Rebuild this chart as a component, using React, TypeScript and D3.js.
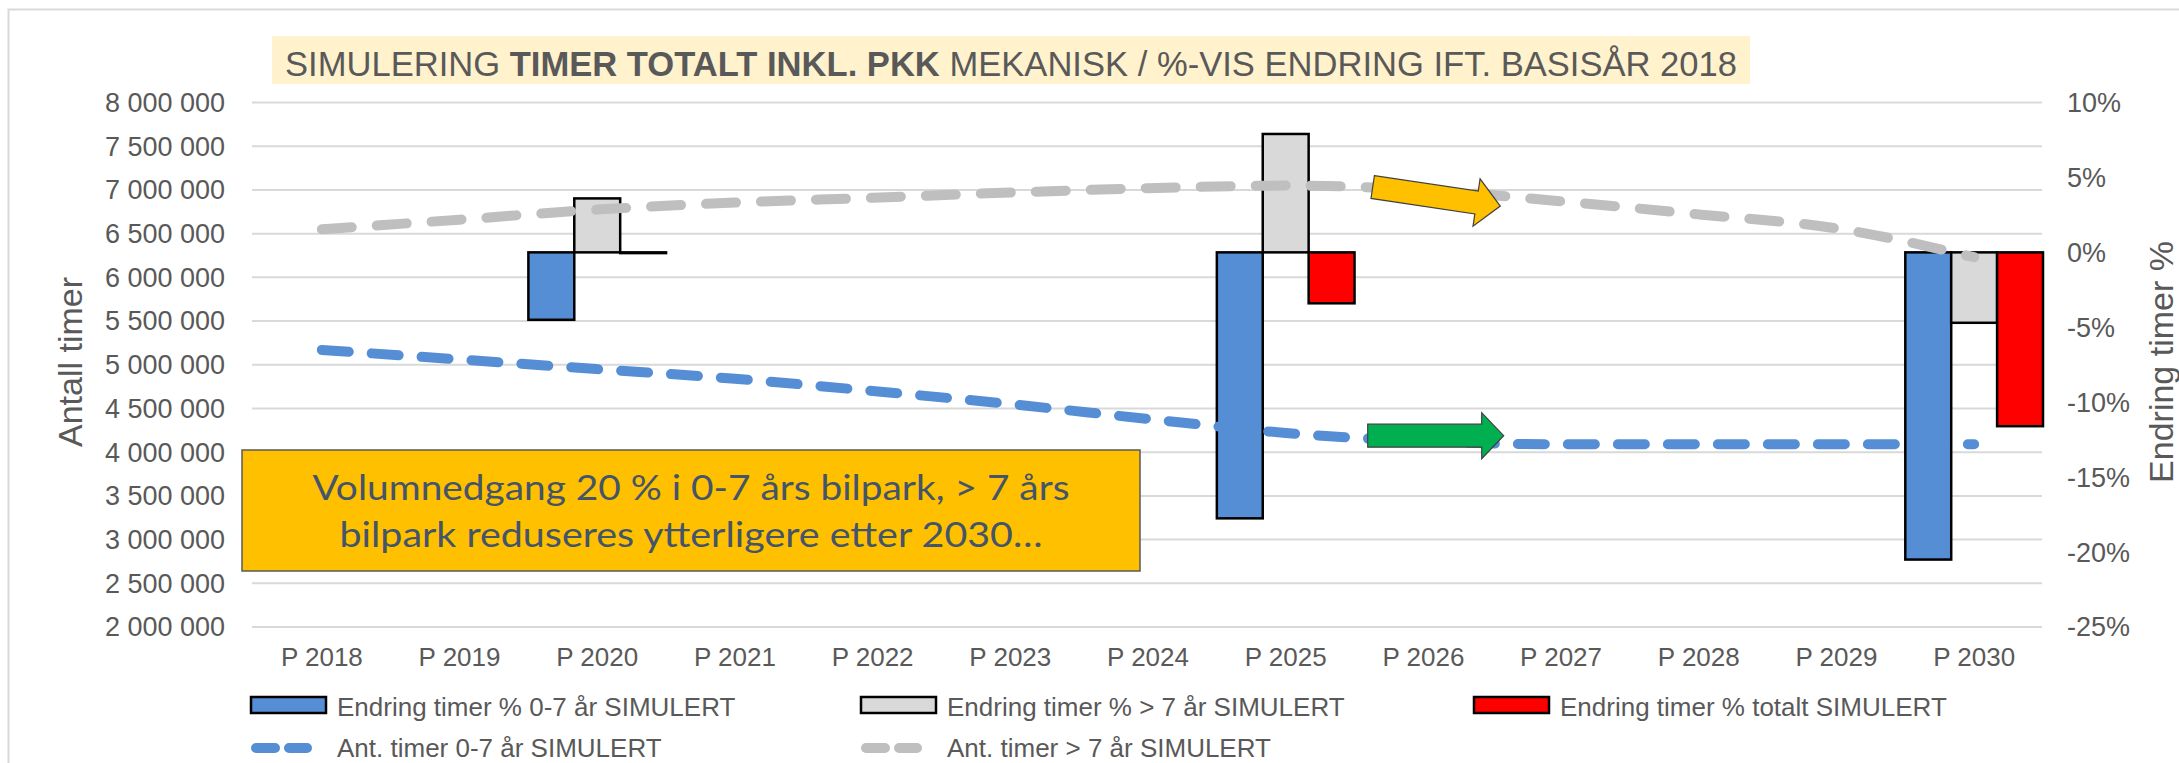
import React, { useEffect, useRef } from 'react';
import * as d3 from 'd3';

const categories = [
  'P 2018', 'P 2019', 'P 2020', 'P 2021', 'P 2022', 'P 2023', 'P 2024',
  'P 2025', 'P 2026', 'P 2027', 'P 2028', 'P 2029', 'P 2030',
];

// % change vs base year 2018 (right axis), only simulated years have values
const changeYoung = [null, null, -4.5, null, null, null, null, -17.75, null, null, null, null, -20.5];
const changeOld = [null, null, 3.6, null, null, null, null, 7.9, null, null, null, null, -4.7];
const changeTotal = [null, null, -0.05, null, null, null, null, -3.4, null, null, null, null, -11.6];

// hours (left axis)
const hoursYoung = [5170000, 5060000, 4950000, 4840000, 4700000, 4550000, 4380000, 4220000, 4125000, 4090000, 4090000, 4090000, 4090000];
const hoursOld = [6550000, 6660000, 6775000, 6855000, 6910000, 6970000, 7020000, 7050000, 7000000, 6870000, 6720000, 6560000, 6230000];

const leftTicks = [2000000, 2500000, 3000000, 3500000, 4000000, 4500000, 5000000, 5500000, 6000000, 6500000, 7000000, 7500000, 8000000];
const rightTicks = [-25, -20, -15, -10, -5, 0, 5, 10];

const barSeries = [
  { name: 'Endring timer % 0-7 år SIMULERT', values: changeYoung, color: '#558ED5' },
  { name: 'Endring timer % > 7 år SIMULERT', values: changeOld, color: '#D9D9D9' },
  { name: 'Endring timer % totalt SIMULERT', values: changeTotal, color: '#FF0000' },
];
const lineSeries = [
  { name: 'Ant. timer 0-7 år SIMULERT', values: hoursYoung, color: '#558ED5', dash: '27 23' },
  { name: 'Ant. timer > 7 år SIMULERT', values: hoursOld, color: '#BFBFBF', dash: '30 25' },
];

const W = 2179;
const H = 763;
const FONT = '"Liberation Sans", Arial, sans-serif';
const TXT = '#595959';

const arrowPath = (len: number, shaft: number, head: number, headLen: number) =>
  `M0,${-shaft / 2}L${len - headLen},${-shaft / 2}L${len - headLen},${-head / 2}L${len},0` +
  `L${len - headLen},${head / 2}L${len - headLen},${shaft / 2}L0,${shaft / 2}Z`;

const App = () => {
  const ref = useRef<SVGSVGElement | null>(null);

  useEffect(() => {
    const svg = d3.select(ref.current);
    svg.selectAll('*').remove();

    const x = d3.scaleBand<string>().domain(categories).range([253, 2043]).padding(0);
    const yLeft = d3.scaleLinear().domain([2000000, 8000000]).range([627, 102.5]);
    const yRight = d3.scaleLinear().domain([-25, 10]).range([627, 102.5]);
    const bw = x.bandwidth() / 3;

    // outer chart border
    svg.append('rect').attr('x', 8.5).attr('y', 9.5).attr('width', W + 20).attr('height', H + 20)
      .attr('fill', 'none').attr('stroke', '#D9D9D9').attr('stroke-width', 2);

    // title
    svg.append('rect').attr('x', 272).attr('y', 36).attr('width', 1478).attr('height', 48).attr('fill', '#FFF2CC');
    const title = svg.append('text').attr('x', 1011).attr('y', 76).attr('text-anchor', 'middle')
      .attr('font-family', '"Liberation Sans Narrow", "Arial Narrow", "Liberation Sans", Arial, sans-serif')
      .attr('font-size', 35).attr('fill', TXT)
      .attr('textLength', 1452).attr('lengthAdjust', 'spacingAndGlyphs');
    title.append('tspan').text('SIMULERING ');
    title.append('tspan').attr('font-weight', 'bold').text('TIMER TOTALT INKL. PKK');
    title.append('tspan').text(' MEKANISK / %-VIS ENDRING IFT. BASISÅR 2018');

    // gridlines
    svg.append('g').selectAll('line').data(leftTicks).enter().append('line')
      .attr('x1', 252).attr('x2', 2042)
      .attr('y1', (d) => yLeft(d)).attr('y2', (d) => yLeft(d))
      .attr('stroke', '#D9D9D9').attr('stroke-width', 2);

    // left axis labels
    svg.append('g').selectAll('text').data(leftTicks).enter().append('text')
      .attr('x', 225).attr('y', (d) => yLeft(d)).attr('dy', '0.35em')
      .attr('text-anchor', 'end').attr('font-family', FONT).attr('font-size', 27).attr('fill', TXT)
      .text((d) => d3.format(',')(d).replace(/,/g, '\u00a0'));

    // right axis labels
    svg.append('g').selectAll('text').data(rightTicks).enter().append('text')
      .attr('x', 2067).attr('y', (d) => yRight(d)).attr('dy', '0.35em')
      .attr('font-family', FONT).attr('font-size', 27).attr('fill', TXT)
      .text((d) => `${d}%`);

    // category labels
    svg.append('g').selectAll('text').data(categories).enter().append('text')
      .attr('x', (d) => (x(d) as number) + x.bandwidth() / 2).attr('y', 666)
      .attr('text-anchor', 'middle').attr('font-family', FONT).attr('font-size', 26).attr('fill', TXT)
      .text((d) => d);

    // axis titles
    svg.append('text').attr('transform', 'translate(70,362) rotate(-90)')
      .attr('text-anchor', 'middle').attr('dy', '0.35em')
      .attr('font-family', FONT).attr('font-size', 34).attr('fill', TXT).text('Antall timer');
    svg.append('text').attr('transform', 'translate(2161,362) rotate(-90)')
      .attr('text-anchor', 'middle').attr('dy', '0.35em')
      .attr('font-family', FONT).attr('font-size', 34).attr('fill', TXT).text('Endring timer %');

    // bars
    barSeries.forEach((s, si) => {
      const data = s.values
        .map((v, i) => ({ cat: categories[i], v }))
        .filter((d) => d.v !== null) as { cat: string; v: number }[];
      svg.append('g').selectAll('rect').data(data).enter().append('rect')
        .attr('x', (d) => (x(d.cat) as number) + si * bw)
        .attr('y', (d) => yRight(Math.max(d.v, 0)))
        .attr('width', bw)
        .attr('height', (d) => Math.abs(yRight(d.v) - yRight(0)))
        .attr('fill', s.color).attr('stroke', '#000').attr('stroke-width', 2.5);
    });

    // lines
    lineSeries.forEach((s) => {
      const line = d3.line<number>()
        .x((_, i) => (x(categories[i]) as number) + x.bandwidth() / 2)
        .y((d) => yLeft(d))
        .curve(d3.curveMonotoneX);
      svg.append('path').attr('d', line(s.values))
        .attr('fill', 'none').attr('stroke', s.color).attr('stroke-width', 10)
        .attr('stroke-linecap', 'round').attr('stroke-dasharray', s.dash);
    });

    // annotation box
    svg.append('rect').attr('x', 242).attr('y', 450).attr('width', 898).attr('height', 121)
      .attr('fill', '#FFC000').attr('stroke', '#595959').attr('stroke-width', 1.5);
    const boxLines = [
      { t: 'Volumnedgang 20 % i 0-7 års bilpark, > 7 års', y: 500, len: 757 },
      { t: 'bilpark reduseres ytterligere etter 2030…', y: 547, len: 703 },
    ];
    svg.append('g').selectAll('text').data(boxLines).enter().append('text')
      .attr('x', 691).attr('y', (d) => d.y).attr('text-anchor', 'middle')
      .attr('font-family', 'Lato, "Open Sans", sans-serif').attr('font-size', 34).attr('fill', '#44546A')
      .attr('textLength', (d) => d.len).attr('lengthAdjust', 'spacingAndGlyphs')
      .text((d) => d.t);

    // arrows
    svg.append('path').attr('d', arrowPath(129, 23, 48, 24))
      .attr('transform', 'translate(1372.7,187) rotate(8.5)')
      .attr('fill', '#FFC000').attr('stroke', '#404040').attr('stroke-width', 1.2);
    svg.append('path').attr('d', arrowPath(136, 23, 46, 22))
      .attr('transform', 'translate(1367.7,435.7)')
      .attr('fill', '#00B050').attr('stroke', '#404040').attr('stroke-width', 1.2);

    // legend
    const legendX = [337, 947, 1560];
    barSeries.forEach((s, i) => {
      const g = svg.append('g');
      g.append('rect').attr('x', legendX[i] - 86).attr('y', 697).attr('width', 75).attr('height', 16)
        .attr('fill', s.color).attr('stroke', '#000').attr('stroke-width', 2.5);
      g.append('text').attr('x', legendX[i]).attr('y', 716)
        .attr('font-family', FONT).attr('font-size', 26).attr('fill', TXT).text(s.name);
    });
    lineSeries.forEach((s, i) => {
      const g = svg.append('g');
      g.append('line').attr('x1', legendX[i] - 81).attr('x2', legendX[i] - 30)
        .attr('y1', 748).attr('y2', 748)
        .attr('stroke', s.color).attr('stroke-width', 10).attr('stroke-linecap', 'round')
        .attr('stroke-dasharray', '19 14');
      g.append('text').attr('x', legendX[i]).attr('y', 757)
        .attr('font-family', FONT).attr('font-size', 26).attr('fill', TXT).text(s.name);
    });
  }, []);

  return (
    <svg
      ref={ref}
      width={W}
      height={H}
      style={{ position: 'absolute', left: 0, top: 0, background: '#fff' }}
    />
  );
};

export default App;
